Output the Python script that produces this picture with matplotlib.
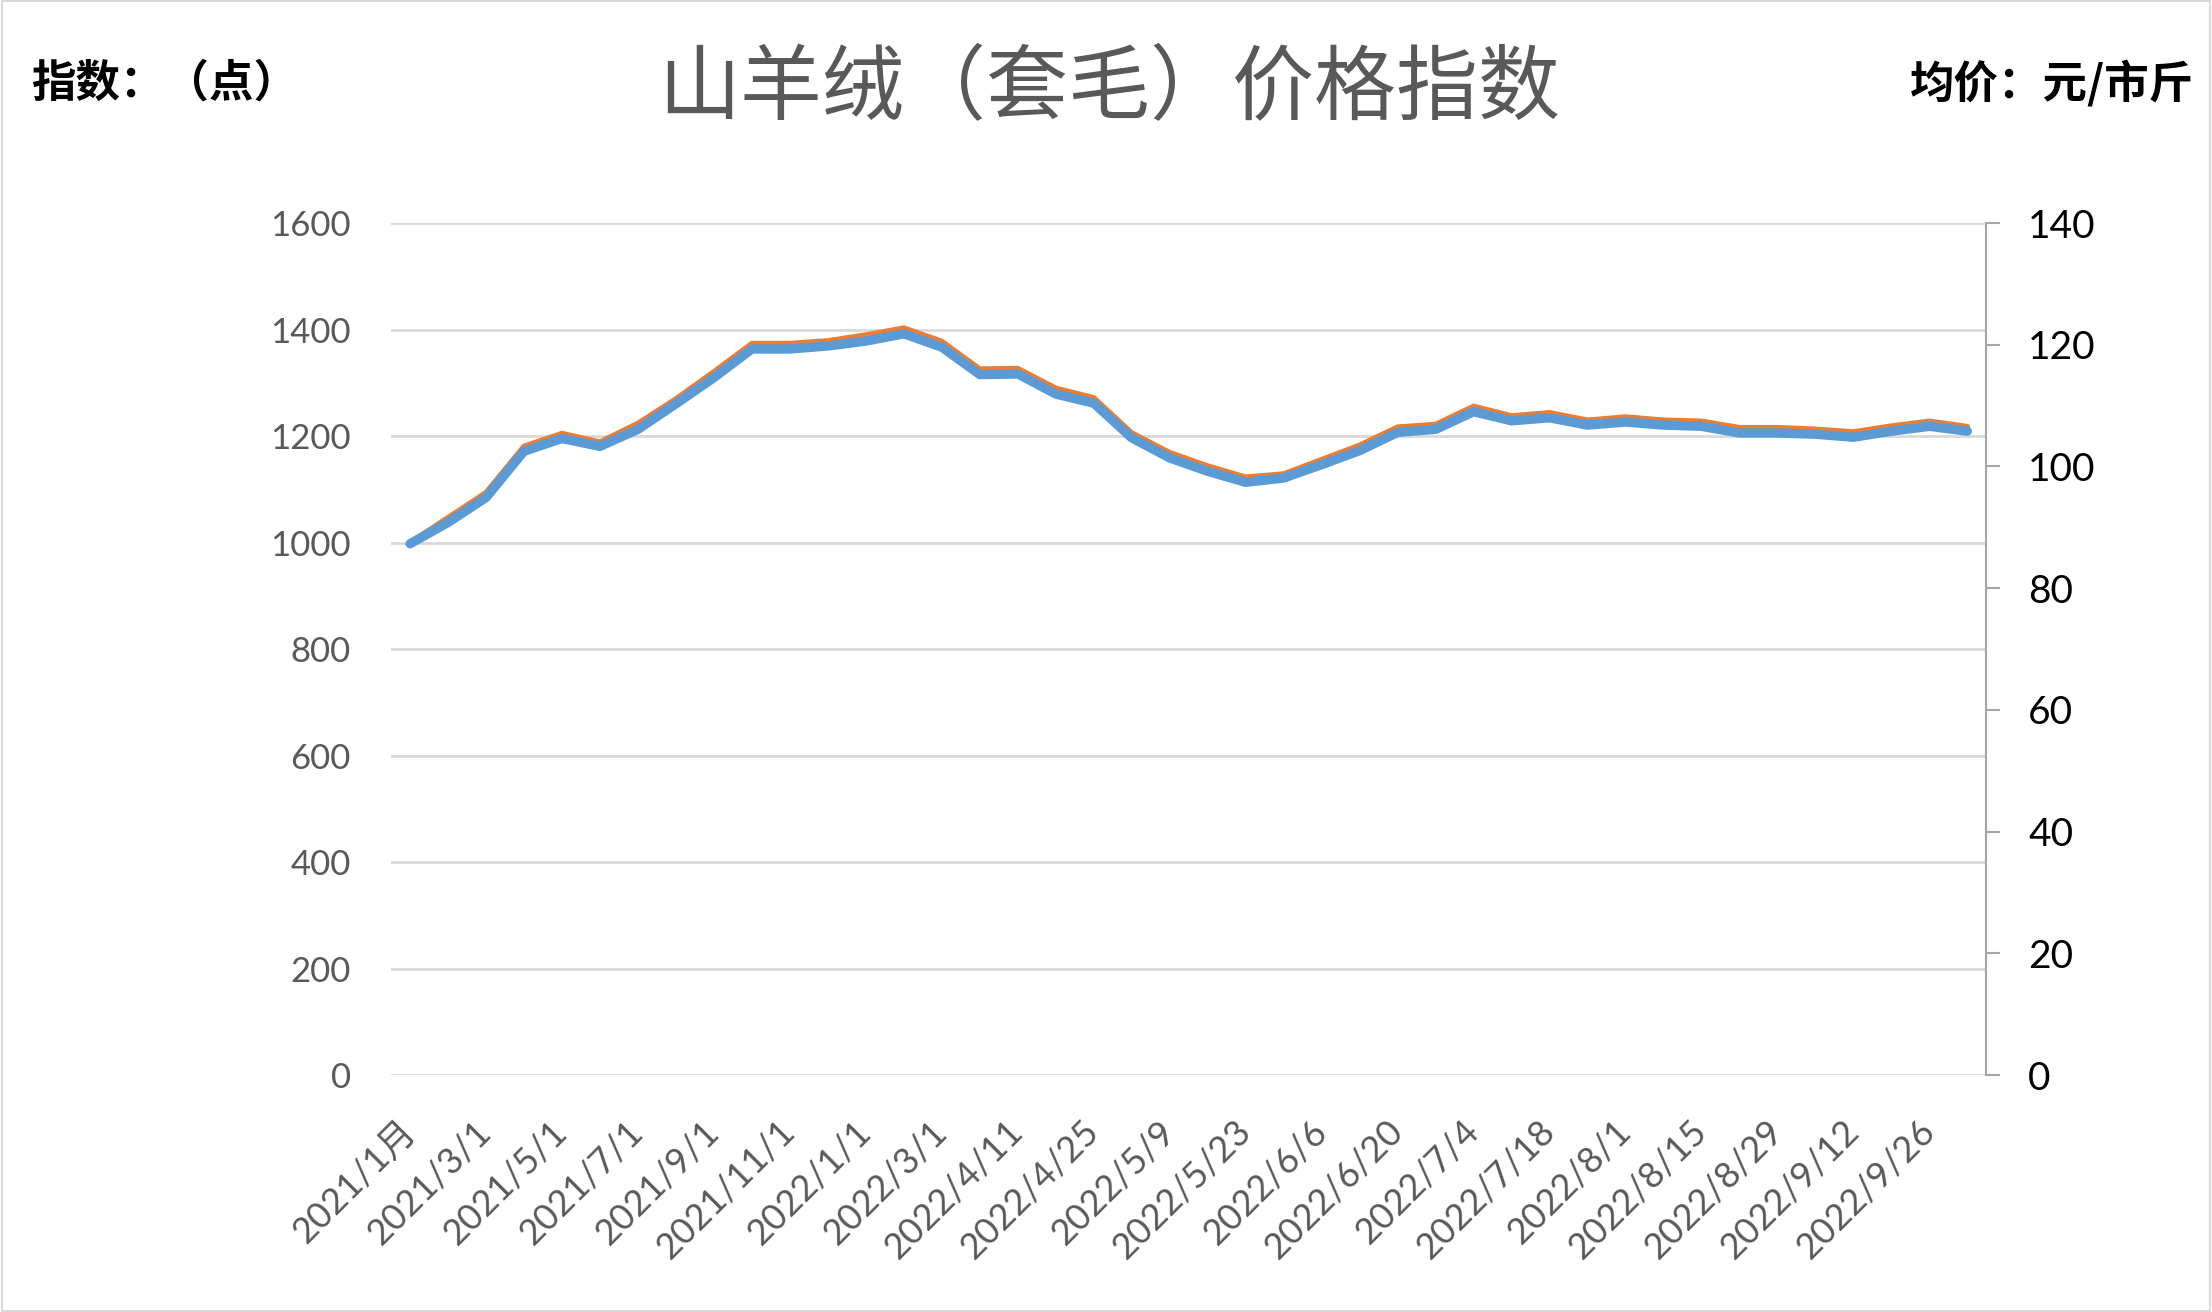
import matplotlib.pyplot as plt
from matplotlib.patches import Rectangle

plt.rcParams['font.family'] = ['Lato', 'Noto Sans CJK SC', 'DejaVu Sans']

dates = ['2021/1月', '2021/2/1', '2021/3/1', '2021/4/1', '2021/5/1', '2021/6/1',
         '2021/7/1', '2021/8/1', '2021/9/1', '2021/10/1', '2021/11/1', '2021/12/1',
         '2022/1/1', '2022/2/1', '2022/3/1', '2022/4/4', '2022/4/11', '2022/4/18',
         '2022/4/25', '2022/5/2', '2022/5/9', '2022/5/16', '2022/5/23', '2022/5/30',
         '2022/6/6', '2022/6/13', '2022/6/20', '2022/6/27', '2022/7/4', '2022/7/11',
         '2022/7/18', '2022/7/25', '2022/8/1', '2022/8/8', '2022/8/15', '2022/8/22',
         '2022/8/29', '2022/9/5', '2022/9/12', '2022/9/19', '2022/9/26', '2022/10/3']

# 指数 (left axis, points)
index_pts = [1000, 1047, 1094, 1181, 1205, 1189, 1224, 1270, 1321, 1374,
             1374, 1379, 1390, 1403, 1378, 1326, 1327, 1290, 1272, 1206,
             1169, 1144, 1123, 1129, 1156, 1183, 1217, 1222, 1256, 1238,
             1244, 1230, 1236, 1230, 1228, 1216, 1216, 1213, 1208, 1219,
             1228, 1218]

# 均价 (right axis, 元/市斤)
price = [87.3, 90.8, 94.9, 102.5, 104.6, 103.3, 106.1, 110.3, 114.6, 119.3,
         119.3, 119.8, 120.6, 121.8, 119.6, 115.1, 115.2, 111.9, 110.4, 104.7,
         101.4, 99.2, 97.4, 98.1, 100.3, 102.6, 105.6, 106.1, 109.0, 107.5,
         108.0, 106.8, 107.3, 106.8, 106.6, 105.5, 105.5, 105.3, 104.8, 105.8,
         106.6, 105.8]

x = list(range(len(dates)))

fig = plt.figure(figsize=(22.12, 13.12), dpi=100)
fig.patches.append(Rectangle((0.001, 0.001), 0.998, 0.998, transform=fig.transFigure,
                             fill=False, edgecolor='#d9d9d9', linewidth=1.5))

ax = fig.add_axes([0.1768, 0.1806, 0.7212, 0.6494])
ax.plot(x, index_pts, color='#ED7D31', linewidth=3.75, solid_capstyle='round',
        solid_joinstyle='round', zorder=3)
ax.set_ylim(0, 1600)
ax.set_yticks(range(0, 1601, 200))
ax.set_xlim(-0.5, len(dates) - 0.5)
ax.grid(axis='y', color='#d9d9d9', linewidth=2)
ax.set_axisbelow(True)
for s in ax.spines.values():
    s.set_visible(False)
ax.tick_params(axis='y', length=0, pad=29, labelsize=25, labelcolor='#595959')
ax.set_xticks(x[::2])
ax.set_xticklabels(dates[::2], rotation=45, ha='right', va='center',
                   rotation_mode='anchor', fontsize=26, color='#595959')
ax.tick_params(axis='x', length=0, pad=37)

ax2 = ax.twinx()
ax2.plot(x, price, color='#5B9BD5', linewidth=6.75, solid_capstyle='round',
         solid_joinstyle='round')
ax2.set_ylim(0, 140)
ax2.set_yticks(range(0, 141, 20))
for s in ['top', 'left', 'bottom']:
    ax2.spines[s].set_visible(False)
ax2.spines['right'].set_color('#a6a6a6')
ax2.spines['right'].set_linewidth(1.5)
ax2.tick_params(axis='y', direction='out', length=10, width=1.5, color='#a6a6a6',
                pad=20, labelsize=28, labelcolor='black')

fig.text(0.5016, 0.932, '山羊绒（套毛）价格指数', ha='center', va='center',
         fontsize=59, color='#595959', family=['Noto Sans CJK SC'])
fig.text(0.014, 0.936, '指数：（点）', ha='left', va='center', fontsize=32,
         fontweight='bold', family=['Noto Sans CJK SC'])
fig.text(0.9917, 0.935, '均价：元/市斤', ha='right', va='center', fontsize=32,
         fontweight='bold', family=['Noto Sans CJK SC'])

fig.savefig('out.png', dpi=100)
